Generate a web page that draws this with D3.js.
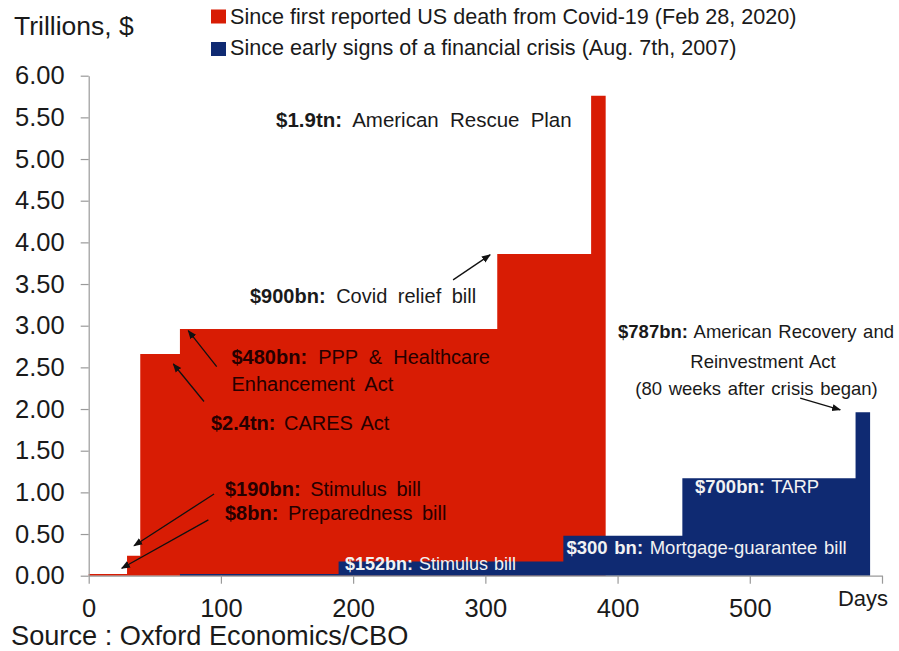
<!DOCTYPE html>
<html>
<head>
<meta charset="utf-8">
<script src="https://cdn.jsdelivr.net/npm/d3@7"></script>
<style>
  html, body { margin: 0; padding: 0; background: #fff; }
  svg { display: block; font-family: "Liberation Sans", Arial, sans-serif; }
</style>
</head>
<body>
<svg id="chart" width="899" height="651"></svg>
<script>
// ---- Data ----
// Covid-19 response (days since Feb 28, 2020): step start days and cumulative levels (trillions $)
const covidDays   = [0, 29, 39, 69, 309, 380];
const covidLevels = [0.02, 0.24, 2.66, 2.96, 3.86, 5.76];
const covidEnd    = 391;
// Financial crisis response (days since Aug 7, 2007)
const finDays   = [69, 189, 359, 449, 580];
const finLevels = [0.02, 0.17, 0.48, 1.17, 1.96];
const finEnd    = 591;

const yTicks = [0, 0.5, 1, 1.5, 2, 2.5, 3, 3.5, 4, 4.5, 5, 5.5, 6];
const xTicks = [0, 100, 200, 300, 400, 500, 600];
const legendLabels = [
  "Since first reported US death from Covid-19 (Feb 28, 2020)",
  "Since early signs of a financial crisis (Aug. 7th, 2007)"
];
const RED = "#d81c04", BLUE = "#0f2a72";

// ---- Scales ----
const svg = d3.select("#chart");
const x = d3.scaleLinear().domain([0, 600]).range([88.7, 882]);
const y = d3.scaleLinear().domain([0, 6]).range([575.7, 75.7]);

function stepPoints(days, levels, end) {
  const pts = days.map((d, i) => [d, levels[i]]);
  pts.push([end, levels[levels.length - 1]]);
  return pts;
}
const area = d3.area()
  .x(d => x(d[0])).y0(y(0)).y1(d => y(d[1]))
  .curve(d3.curveStepAfter);

svg.append("path").datum(stepPoints(covidDays, covidLevels, covidEnd))
  .attr("d", area).attr("fill", RED);
svg.append("path").datum(stepPoints(finDays, finLevels, finEnd))
  .attr("d", area).attr("fill", BLUE);

// ---- Axes ----
const yAxis = svg.append("g").attr("transform", `translate(${x(0)},0)`)
  .call(d3.axisLeft(y).tickValues(yTicks).tickFormat(d3.format(".2f"))
    .tickSize(8).tickPadding(16).tickSizeOuter(0));
const xAxis = svg.append("g").attr("transform", `translate(0,${y(0)})`)
  .call(d3.axisBottom(x).tickValues(xTicks).tickFormat(d => d === 600 ? "" : d)
    .tickSize(8).tickPadding(15).tickSizeOuter(0));
[yAxis, xAxis].forEach(g => {
  g.selectAll("path, line").attr("stroke", "#9a9a9a").attr("stroke-width", 1.2);
  g.selectAll("text").attr("fill", "#1a1a1a")
    .style("font-family", '"Liberation Sans", Arial, sans-serif').style("font-size", "25.5px");
});
svg.append("text").attr("x", x(600) - 19).attr("y", 605.5).attr("text-anchor", "middle")
  .attr("font-size", 22).attr("fill", "#1a1a1a").text("Days");

// ---- Titles ----
svg.append("text").attr("x", 14).attr("y", 35).attr("font-size", 26.5).attr("fill", "#1a1a1a").text("Trillions, $");
svg.append("text").attr("x", 11).attr("y", 645).attr("font-size", 27.2).attr("fill", "#1a1a1a").text("Source : Oxford Economics/CBO");

// ---- Legend ----
[RED, BLUE].forEach((c, i) => {
  svg.append("rect").attr("x", 211).attr("y", 9.5 + i * 32.5).attr("width", 15).attr("height", 14).attr("fill", c);
  svg.append("text").attr("x", 230).attr("y", 24 + i * 31).attr("font-size", 21.6).attr("fill", "#1a1a1a").text(legendLabels[i]);
});

// ---- Annotations ----
const notes = [
  {x: 276, y: 126.5, b: "$1.9tn:", t: " American Rescue Plan", c: "#1a1a1a", fs: 20.5, ws: 5.5},
  {x: 250, y: 303, b: "$900bn:", t: " Covid relief bill", c: "#1a1a1a", fs: 20, ws: 5},
  {x: 231.5, y: 364, b: "$480bn:", t: " PPP & Healthcare", c: "#260000", fs: 20, ws: 5.5},
  {x: 231.5, y: 390.5, b: "", t: "Enhancement Act", c: "#260000", fs: 20, ws: 5},
  {x: 211, y: 429.5, b: "$2.4tn:", t: " CARES Act", c: "#260000", fs: 20, ws: 3},
  {x: 225, y: 496, b: "$190bn:", t: " Stimulus bill", c: "#260000", fs: 20, ws: 4},
  {x: 225, y: 520, b: "$8bn:", t: " Preparedness bill", c: "#260000", fs: 20, ws: 4},
  {x: 345, y: 570, b: "$152bn:", t: " Stimulus bill", c: "#f2f2f2", fs: 18, ws: 1},
  {x: 566.5, y: 553.5, b: "$300 bn:", t: " Mortgage-guarantee bill", c: "#f2f2f2", fs: 18.5, ws: 1.5},
  {x: 695, y: 492.5, b: "$700bn:", t: " TARP", c: "#f2f2f2", fs: 18.5, ws: 1.5},
  {x: 756, y: 338, b: "$787bn:", t: " American Recovery and", c: "#1a1a1a", fs: 18.5, ws: 1.5, anchor: "middle"},
  {x: 763, y: 367.5, b: "", t: "Reinvestment Act", c: "#1a1a1a", fs: 18.5, ws: 1.5, anchor: "middle"},
  {x: 756.5, y: 395, b: "", t: "(80 weeks after crisis began)", c: "#1a1a1a", fs: 18.5, ws: 1.5, anchor: "middle"}
];
notes.forEach(n => {
  const t = svg.append("text").attr("x", n.x).attr("y", n.y).attr("font-size", n.fs)
    .attr("fill", n.c).attr("text-anchor", n.anchor || "start").style("word-spacing", n.ws + "px");
  if (n.b) t.append("tspan").attr("font-weight", "bold").text(n.b);
  t.append("tspan").text(n.t);
});

// Arrows (in data units: [day, value] -> [day, value])
const arrows = [
  [[275.6, 3.55], [303.6, 3.85]],
  [[96.8, 2.51], [75.3, 2.94]],
  [[87.2, 2.09], [64.0, 2.54]],
  [[94.8, 0.98], [34.3, 0.36]],
  [[90.5, 0.67], [25.0, 0.09]],
  [[538.1, 2.13], [568.4, 1.99]]
];
svg.append("defs").append("marker").attr("id", "ah").attr("viewBox", "0 0 10 10")
  .attr("refX", 9).attr("refY", 5).attr("markerWidth", 9).attr("markerHeight", 9)
  .attr("markerUnits", "userSpaceOnUse").attr("orient", "auto")
  .append("path").attr("d", "M0,1 L10,5 L0,9 Z").attr("fill", "#111");
arrows.forEach(a => {
  svg.append("line")
    .attr("x1", x(a[0][0])).attr("y1", y(a[0][1]))
    .attr("x2", x(a[1][0])).attr("y2", y(a[1][1]))
    .attr("stroke", "#111").attr("stroke-width", 1.3).attr("marker-end", "url(#ah)");
});
</script>
</body>
</html>
